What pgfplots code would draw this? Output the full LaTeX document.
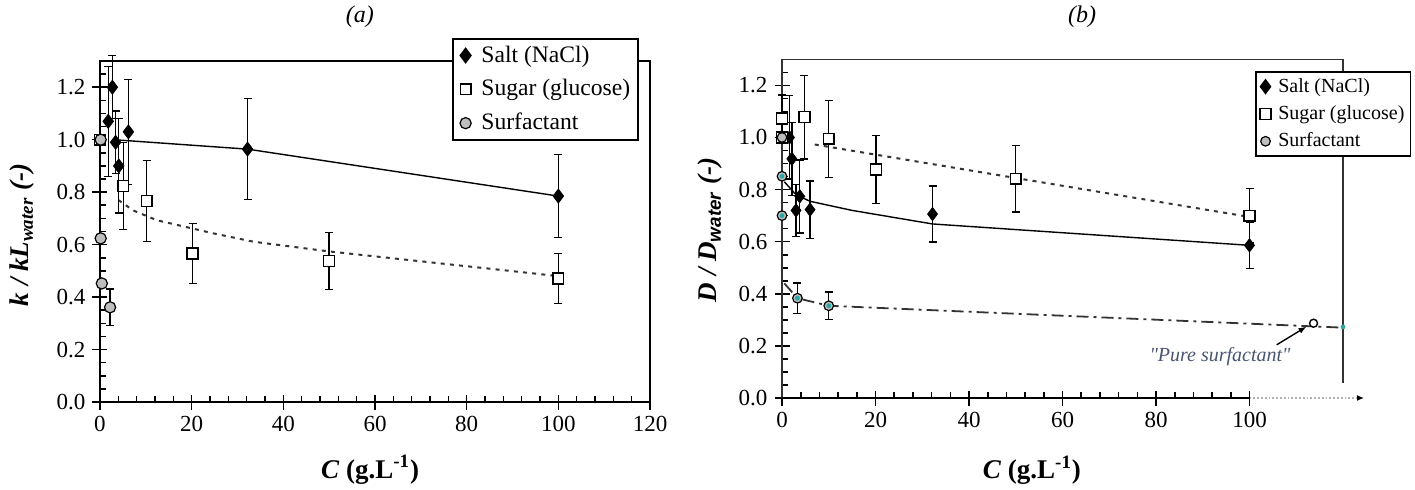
\documentclass[border=0pt]{standalone}
\usepackage{pgfplots}
\pgfplotsset{compat=1.18}
\usetikzlibrary{arrows.meta}
\usepackage{fontspec}
\setmainfont{Liberation Serif}
\setsansfont{Liberation Sans}
\definecolor{surfgray}{HTML}{BEBEBE}
\definecolor{tealdot}{HTML}{2AA7A7}
\definecolor{annot}{HTML}{4A5570}
\pgfplotsset{
  panel/.style={
    scale only axis, clip=false,
    xmin=0, xmax=120, ymin=0, ymax=1.3,
    tick pos=left, tick align=center,
    major tick length=7.5pt, minor tick length=3pt,
    minor x tick style={yshift=1.5pt},
    minor y tick style={xshift=1.5pt},
    every tick/.append style={line width=0.8pt, black},
    ytick={0,0.2,...,1.2},
    minor ytick={0,0.05,...,1.3},
    yticklabel style={/pgf/number format/.cd, fixed, fixed zerofill, precision=1},
    /pgf/number format/assume math mode=true,
    tick label style={font=\rmfamily\fontsize{11.5}{13}\selectfont},
    label style={font=\rmfamily\fontsize{13.5}{16}\selectfont\bfseries},
    legend cell align=left,
  },
  ebar/.style={error bars/y dir=both, error bars/y explicit,
     error bars/error bar style={line width=0.7pt, black},
     error bars/error mark options={rotate=90, mark size=2pt, line width=0.7pt, black}},
  saltm/.style={only marks, mark=diamond*, mark size=3.5pt, black, mark options={fill=black}},
  sugarm/.style={only marks, mark=square*, mark size=2.7pt, black, mark options={fill=white, line width=0.7pt}},
  surfm/.style={only marks, mark=*, mark size=2.8pt, black, mark options={fill=surfgray, line width=0.6pt}},
}
\begin{document}
\begin{tikzpicture}
\useasboundingbox (0,0) rectangle (707.5pt,244.5pt);
% ---------------- panel (a)
\begin{axis}[panel, at={(50pt,43.5pt)}, anchor=south west, width=275pt, height=170.5pt,
  xtick={0,20,...,120}, minor xtick={0,4,...,120},
  axis line style={line width=0.8pt},
  xlabel={\textit{C} (g.L\textsuperscript{-1})},
  xlabel style={at={(axis description cs:0.491,-0.199)}, anchor=center},
  ylabel={\textit{k / kL\textsubscript{water} (-)}},
  ylabel style={at={(axis description cs:-0.1418,0.4897)}, anchor=center},
  legend image code/.code={\path (-4pt,0pt) (5.5pt,0pt); \draw[#1] plot coordinates {(0pt,0pt)};},
  legend style={at={(axis description cs:0.64,1.0674)}, anchor=north west, draw=black, line width=0.8pt,
    font=\rmfamily\fontsize{11.8}{13}\selectfont, fill=white, inner xsep=2pt, inner ysep=1.5pt, row sep=3.2pt},
]
\node[font=\rmfamily\fontsize{12}{14}\selectfont\itshape, anchor=center] at (axis description cs:0.4727,1.129) {(a)};
\addplot[black, line width=0.7pt, forget plot] coordinates {(3,1.0) (32.2,0.964) (100,0.785)};
\addplot[black!80, line width=1pt, dash pattern=on 2pt off 2.6pt, forget plot] coordinates {
 (4,0.77) (7.3,0.73) (12.4,0.693) (24.7,0.643) (33.5,0.611) (50,0.574) (100,0.48)};
\addplot[saltm, ebar] coordinates {
 (1.8,1.07) +- (0,0.21)
 (2.7,1.20) +- (0,0.12)
 (3.4,0.99) +- (0,0.12)
 (4.1,0.90) +- (0,0.18)
 (6.2,1.03) +- (0,0.20)
 (32.2,0.964) +- (0,0.193)
 (100,0.785) +- (0,0.158)
};
\addplot[sugarm, ebar] coordinates {
 (0,1.0) +- (0,0)
 (5.1,0.823) +- (0,0.166)
 (10.2,0.766) +- (0,0.154)
 (20.2,0.566) +- (0,0.115)
 (50,0.538) +- (0,0.108)
 (100,0.471) +- (0,0.095)
};
\addplot[surfm, ebar] coordinates {
 (0.15,1.0) +- (0,0)
 (0.15,0.624) +- (0,0)
 (0.4,0.452) +- (0,0)
 (2.2,0.361) +- (0,0.07)
};
\legend{Salt (NaCl), Sugar (glucose), Surfactant}
\end{axis}
% ---------------- panel (b)
\begin{axis}[panel, at={(391pt,45.5pt)}, anchor=south west, width=280.5pt, height=169.35pt,
  xtick={0,20,...,100}, minor xtick={0,4,...,100},
  axis line style={draw=none},
  xlabel={\textit{C} (g.L\textsuperscript{-1})},
  xlabel style={at={(axis description cs:0.4456,-0.2126)}, anchor=center},
  ylabel={\textit{D / D}\textsubscript{\sffamily\itshape water}\textit{ (-)}},
  ylabel style={at={(axis description cs:-0.1283,0.496)}, anchor=center},
  legend image code/.code={\path (-3.5pt,0pt) (4pt,0pt); \draw[#1] plot coordinates {(0pt,0pt)};},
  legend style={at={(axis description cs:0.843,0.9655)}, anchor=north west, draw=black, line width=0.8pt,
    font=\rmfamily\fontsize{10}{12}\selectfont, fill=white, inner xsep=1pt, inner ysep=1.2pt, row sep=1.2pt},
]
\node[font=\rmfamily\fontsize{12}{14}\selectfont\itshape, anchor=center] at (axis description cs:0.535,1.125) {(b)};
\draw[line width=0.8pt, black!80] (axis cs:0,0) -- (axis cs:0,1.3) -- (axis cs:120,1.3) -- (axis cs:120,0.058);
\draw[line width=0.8pt] (axis cs:0,0) -- (axis cs:100,0);
\draw[gray!60, densely dotted, line width=0.9pt, -{Latex[length=3.5pt, width=3pt, color=black]}] (axis cs:100,0) -- (axis cs:124.5,0);
\addplot[black, line width=0.7pt, forget plot] coordinates {
 (0.5,0.83) (3,0.78) (6,0.755) (15,0.72) (32.2,0.668) (100,0.586)};
\addplot[black!80, line width=1pt, dash pattern=on 2pt off 2.6pt, forget plot] coordinates {(7,0.973) (100,0.695)};
\addplot[black!80, line width=0.9pt, dash pattern=on 6pt off 2.5pt on 1.5pt off 2.5pt, forget plot] coordinates {
 (0.5,0.44) (3.3,0.383) (10,0.354) (120,0.27)};
\addplot[saltm, mark size=3.3pt, ebar] coordinates {
 (0,1.0) +- (0,0)
 (1.6,1.0) +- (0,0.16)
 (2.1,0.918) +- (0,0.14)
 (3.0,0.72) +- (0,0.10)
 (3.8,0.774) +- (0,0.14)
 (6.0,0.723) +- (0,0.11)
 (32.2,0.706) +- (0,0.107)
 (100,0.586) +- (0,0.09)
};
\addplot[sugarm, ebar] coordinates {
 (0,1.073) +- (0,0.09)
 (0,1.0) +- (0,0)
 (4.8,1.078) +- (0,0.16)
 (10,0.995) +- (0,0.148)
 (20.1,0.877) +- (0,0.131)
 (50,0.842) +- (0,0.128)
 (100,0.70) +- (0,0.105)
};
\addplot[surfm, mark size=2.4pt, ebar] coordinates {
 (0,1.0) +- (0,0)
 (0,0.851) +- (0,0)
 (0,0.70) +- (0,0)
 (3.3,0.383) +- (0,0.058)
 (10,0.354) +- (0,0.053)
};
\addplot[only marks, mark=*, mark size=1pt, tealdot, forget plot] coordinates {
 (0,0.851) (0,0.70) (3.3,0.383) (10,0.354) (120,0.273)};
\addplot[only marks, mark=*, mark size=2pt, black, mark options={fill=white, line width=0.7pt}, forget plot] coordinates {(113.7,0.287)};
\node[annot, font=\rmfamily\fontsize{10}{12}\selectfont\itshape] at (axis cs:93.7,0.159) {\textquotedbl Pure surfactant\textquotedbl};
\draw[black, line width=0.7pt, -{Latex[length=4pt, width=3pt]}] (axis cs:105.8,0.204) -- (axis cs:112.2,0.274);
\legend{Salt (NaCl), Sugar (glucose), Surfactant}
\end{axis}
\end{tikzpicture}
\end{document}
